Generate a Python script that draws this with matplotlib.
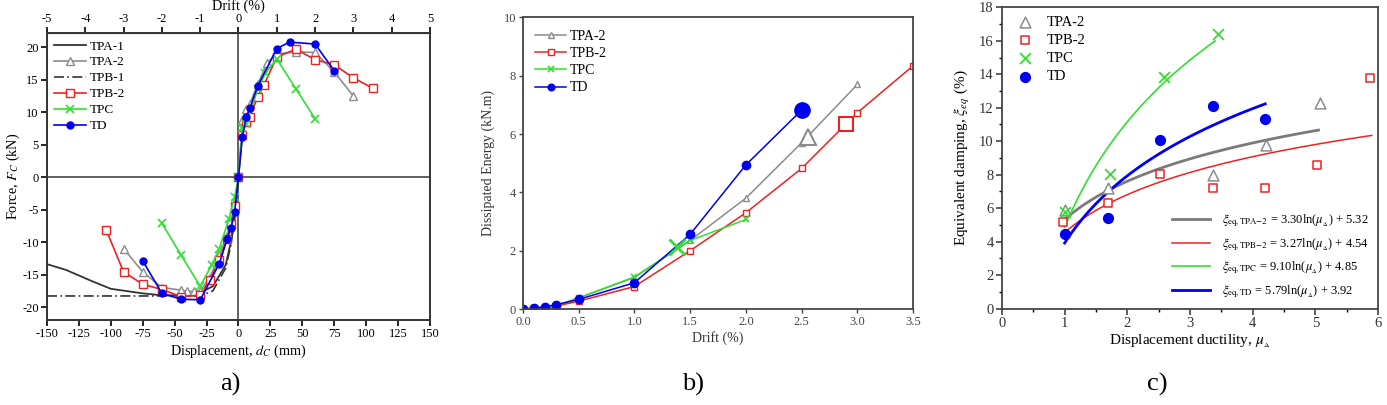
import matplotlib
matplotlib.use('Agg')
import matplotlib.pyplot as plt
from matplotlib.ticker import MultipleLocator, FormatStrFormatter
import numpy as np

plt.rcParams['font.family'] = ['Liberation Serif', 'DejaVu Serif']
plt.rcParams['mathtext.fontset'] = 'stix'
plt.rcParams['axes.unicode_minus'] = False
plt.rcParams['xtick.direction'] = 'out'
plt.rcParams['ytick.direction'] = 'out'

GRAY = '#8c8c8c'
RED = '#f02020'
GREEN = '#30e030'
BLUE = '#0000f0'

# ---- a) force vs displacement (mm, kN)
tpa1_d = [0, -3, -6, -10, -20, -30, -45, -60, -75, -100, -115, -135, -150]
tpa1_f = [0, -6, -10, -13.5, -16.8, -17.8, -18.2, -18.2, -17.9, -17.2, -16.0, -14.3, -13.4]
tpb1_d = [0, -3, -6, -10, -20, -30, -60, -100, -150]
tpb1_f = [0, -6.5, -10.5, -14, -17.5, -18.3, -18.3, -18.3, -18.3]
tpa2_d = [-90, -75, -60, -45, -40, -35, -30, -22.5, -15, -9, -6, -3, 0, 3, 6, 9, 15, 22.5, 30, 45, 60, 75, 90]
tpa2_f = [-11.0, -14.6, -17.0, -17.4, -17.6, -17.6, -17.5, -15.5, -12.0, -9.0, -7.0, -4.5, 0,
          8.8, 10.5, 11.3, 14.3, 17.6, 19.0, 19.3, 19.2, 16.2, 12.5]
tpb2_d = [-103.5, -90, -75, -60, -45, -30, -22.5, -15, -9, -6, -3, 0, 3, 6, 9, 15, 20, 30, 45, 60, 75, 90, 105]
tpb2_f = [-8.2, -14.6, -16.5, -17.3, -18.4, -18.2, -15.8, -12.7, -9.5, -7.2, -4.5, 0,
          6.5, 8.5, 9.3, 12.4, 14.2, 18.5, 19.7, 18.1, 17.3, 15.3, 13.7]
tpc_d = [-60, -45, -30, -21, -15, -7.5, -3, 0, 3, 6, 15, 21, 30, 45, 60]
tpc_f = [-7.1, -12.0, -16.8, -13.5, -11.0, -6.4, -3.0, 0, 7.5, 8.2, 13.5, 16.0, 18.2, 13.6, 9.0]
td_d = [-75, -60, -45, -30, -15, -9, -6, -3, 0, 3, 6, 9, 15, 30, 40, 60, 75]
td_f = [-12.9, -17.9, -18.8, -18.9, -13.3, -9.6, -7.9, -5.3, 0, 6.2, 9.2, 10.7, 14.0, 19.8, 20.8, 20.5, 16.4]

# ---- b) dissipated energy vs drift
drift_tpa2 = [0, 0.1, 0.2, 0.3, 0.5, 1.0, 1.5, 2.0, 2.5, 3.0]
energy_tpa2 = [0, 0.02, 0.05, 0.1, 0.38, 1.08, 2.35, 3.8, 5.7, 7.7]
drift_tpb2 = [0, 0.1, 0.2, 0.3, 0.5, 1.0, 1.5, 2.0, 2.5, 3.0, 3.5]
energy_tpb2 = [0, 0.02, 0.05, 0.1, 0.27, 0.77, 2.0, 3.3, 4.82, 6.73, 8.34]
drift_tpc = [0, 0.1, 0.2, 0.3, 0.5, 1.0, 1.5, 2.0]
energy_tpc = [0, 0.02, 0.06, 0.12, 0.38, 1.1, 2.35, 3.07]
drift_td = [0, 0.1, 0.2, 0.3, 0.5, 1.0, 1.5, 2.0, 2.5]
energy_td = [0, 0.03, 0.08, 0.15, 0.33, 0.9, 2.56, 4.94, 6.82]
# larger marked points
big_tpa2 = (2.56, 5.9)
big_tpb2 = (2.9, 6.34)
big_tpc = (1.38, 2.12)
big_td = (2.5, 6.82)

# ---- c) equivalent damping vs ductility
mu_tpa2 = [1.0, 1.69, 3.37, 4.21, 5.07]
xi_tpa2 = [5.9, 7.2, 8.0, 9.8, 12.3]
mu_tpb2 = [0.98, 1.69, 2.52, 3.36, 4.2, 5.03, 5.87]
xi_tpb2 = [5.2, 6.3, 8.05, 7.2, 7.2, 8.55, 13.8]
mu_tpc = [1.0, 1.72, 2.59, 3.44]
xi_tpc = [5.8, 8.05, 13.85, 16.4]
mu_td = [1.0, 1.69, 2.52, 3.36, 4.2]
xi_td = [4.45, 5.4, 10.05, 12.1, 11.3]
# fit coefficients a*ln(mu)+b and end of fitted range
fit_tpa2 = (3.30, 5.32, 5.05)
fit_tpb2 = (3.27, 4.54, 5.9)
fit_tpc = (9.10, 4.85, 3.4)
fit_td = (5.79, 3.92, 4.2)

fig = plt.figure(figsize=(13.87, 4.05), dpi=100)

# ================= panel a
ax1 = fig.add_axes([0.0339, 0.2099, 0.2761, 0.7086])
ax1.axhline(0, color='#555555', lw=1.3, zorder=1)
ax1.axvline(0, color='#555555', lw=1.3, zorder=1)
ax1.plot(tpa1_d, tpa1_f, color='#333333', lw=1.3, label='TPA-1')
ax1.plot(tpa2_d, tpa2_f, color=GRAY, lw=1.2, marker='^', ms=6, mfc='white', label='TPA-2')
ax1.plot(tpb1_d, tpb1_f, color='#333333', lw=1.2, ls=(0, (6, 2, 1, 2)), label='TPB-1')
ax1.plot(tpb2_d, tpb2_f, color=RED, lw=1.2, marker='s', ms=6, mfc='white', label='TPB-2')
ax1.plot(tpc_d, tpc_f, color=GREEN, lw=1.2, marker='x', ms=6, mew=1.2, label='TPC')
ax1.plot(td_d, td_f, color=BLUE, lw=1.2, marker='o', ms=5, label='TD')
ax1.set_xlim(-150, 150)
ax1.set_ylim(-22, 22.2)
ax1.xaxis.set_major_locator(MultipleLocator(25))
ax1.yaxis.set_major_locator(MultipleLocator(5))
ax1.tick_params(labelsize=9, length=4, width=1.2, pad=2)
ax1.set_xlabel(r'Displacement, $d_C$ (mm)', fontsize=10.3, labelpad=2)
ax1.set_ylabel(r'Force, $F_C$ (kN)', fontsize=10.3, labelpad=0)
for s in ax1.spines.values():
    s.set_linewidth(1.4)
    s.set_color('#333333')
top = ax1.secondary_xaxis('top', functions=(lambda d: d / 30.0, lambda p: p * 30.0))
top.xaxis.set_major_locator(MultipleLocator(1))
top.tick_params(labelsize=9, length=4, width=1.2, pad=2)
top.set_xlabel('Drift (%)', fontsize=10.3, labelpad=2)
ax1.legend(loc='upper left', frameon=False, fontsize=9.5, handlelength=2.4,
           handletextpad=0.3, labelspacing=0.28, borderaxespad=0.15)

# ================= panel b
ax2 = fig.add_axes([0.377, 0.237, 0.2813, 0.72])
ax2.plot(drift_tpa2, energy_tpa2, color=GRAY, lw=1.1, marker='^', ms=5, mfc='white', label='TPA-2')
ax2.plot(drift_tpb2, energy_tpb2, color=RED, lw=1.1, marker='s', ms=5, mfc='white', label='TPB-2')
ax2.plot(drift_tpc, energy_tpc, color=GREEN, lw=1.1, marker='x', ms=5, mew=1.2, label='TPC')
ax2.plot(drift_td, energy_td, color=BLUE, lw=1.1, marker='o', ms=6, label='TD')
ax2.plot(*big_tpa2, ls='none', marker='^', ms=11, mfc='white', mec=GRAY, mew=1.5)
ax2.plot(*big_tpb2, ls='none', marker='s', ms=10, mfc='white', mec=RED, mew=1.5)
ax2.plot(*big_tpc, ls='none', marker='x', ms=11, mec=GREEN, mew=2)
ax2.plot(*big_td, ls='none', marker='o', ms=11, color=BLUE)
ax2.set_xlim(0, 3.5)
ax2.set_ylim(0, 10)
ax2.xaxis.set_major_locator(MultipleLocator(0.5))
ax2.yaxis.set_major_locator(MultipleLocator(2))
ax2.xaxis.set_major_formatter(FormatStrFormatter('%.1f'))
ax2.tick_params(labelsize=9, length=3, width=1, colors='#444444', pad=2)
ax2.set_xlabel('Drift (%)', fontsize=10, labelpad=2, color='#333333')
ax2.set_ylabel('Dissipated Energy (kN.m)', fontsize=10, labelpad=6, color='#333333')
for s in ax2.spines.values():
    s.set_linewidth(1.3)
    s.set_color('#444444')
ax2.legend(loc='upper left', frameon=False, fontsize=10, handlelength=2.2,
           handletextpad=0.3, labelspacing=0.3, borderaxespad=0.5, markerscale=0.8)

# ================= panel c
ax3 = fig.add_axes([0.7224, 0.238, 0.2711, 0.744])
h1 = ax3.scatter(mu_tpa2, xi_tpa2, marker='^', s=60, facecolors='white', edgecolors=GRAY,
                 linewidths=1.1, label='TPA-2', zorder=3)
h2 = ax3.scatter(mu_tpb2, xi_tpb2, marker='s', s=38, facecolors='white', edgecolors=RED,
                 linewidths=1.1, label='TPB-2', zorder=3)
h3 = ax3.scatter(mu_tpc, xi_tpc, marker='x', s=60, color=GREEN, linewidths=1.3, label='TPC', zorder=3)
h4 = ax3.scatter(mu_td, xi_td, marker='o', s=50, color=BLUE, label='TD', zorder=3)

fit_lines = []
for (a, b, mu_end), col, lw, name in [
        (fit_tpa2, '#7a7a7a', 2.0, 'TPA{-}2'),
        (fit_tpb2, RED, 1.1, 'TPB{-}2'),
        (fit_tpc, GREEN, 1.2, 'TPC'),
        (fit_td, BLUE, 2.0, 'TD')]:
    mu = np.linspace(1.0, mu_end, 60)
    ln, = ax3.plot(mu, a * np.log(mu) + b, color=col, lw=lw,
                   label=r'$\xi_{\mathrm{eq,%s}}$ = %.2fln($\mu_{_\Delta}$) + %.2f' % (name, a, b))
    fit_lines.append(ln)

ax3.set_xlim(0, 6)
ax3.set_ylim(0, 18)
ax3.xaxis.set_major_locator(MultipleLocator(1))
ax3.xaxis.set_minor_locator(MultipleLocator(0.5))
ax3.yaxis.set_major_locator(MultipleLocator(2))
ax3.yaxis.set_minor_locator(MultipleLocator(1))
ax3.tick_params(labelsize=10.5, length=4, width=1.1, colors='#333333', pad=2)
ax3.tick_params(which='minor', length=2.5, width=1)
ax3.set_xlabel(r'Displacement ductility, $\mu_{_\Delta}$', fontsize=11, labelpad=2)
ax3.set_ylabel(r'Equivalent damping, $\xi_{eq}$ (%)', fontsize=11, labelpad=5)
for s in ax3.spines.values():
    s.set_linewidth(1.3)
    s.set_color('#444444')
leg1 = ax3.legend(handles=[h1, h2, h3, h4], loc='upper left', frameon=False, fontsize=10.5,
                  handletextpad=0.5, labelspacing=0.35, borderaxespad=0.15)
ax3.add_artist(leg1)
ax3.legend(handles=fit_lines, loc='lower right', frameon=False, fontsize=9,
           handlelength=3.0, handletextpad=1.0, labelspacing=0.55, borderaxespad=0.3)

# captions
fig.text(0.166, 0.05, 'a)', fontsize=19, ha='center', va='center')
fig.text(0.4996, 0.05, 'b)', fontsize=19, ha='center', va='center')
fig.text(0.834, 0.05, 'c)', fontsize=19, ha='center', va='center')

fig.savefig('out.png', dpi=100)
